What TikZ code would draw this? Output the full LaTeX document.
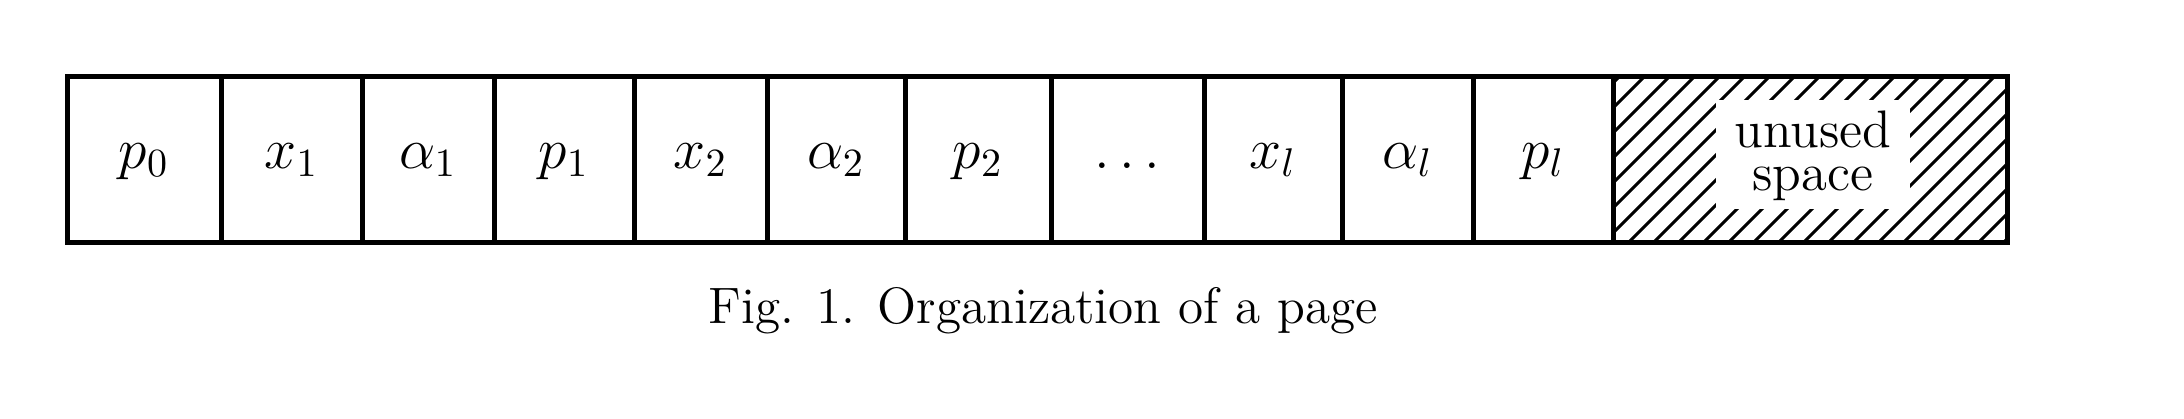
\documentclass[tikz,border=0pt]{standalone}
\usepackage{fontspec}
\begin{document}
\begin{tikzpicture}[x=0.25pt,y=-0.25pt,
  cell/.style={draw=black, line width=1.25pt},
  lab/.style={anchor=base, inner sep=0pt, font=\fontsize{14.4}{17}\selectfont},
  word/.style={anchor=base, inner sep=0pt, font=\fontsize{13.2}{16}\selectfont},
  hatch/.style={line width=0.75pt},
]
\useasboundingbox (0,0) rectangle (2184,418);
% hatching of the unused space
\begin{scope}
  \clip (1613,76) rectangle (2007,242);
  \foreach \k in {0,...,22} \draw[hatch] ({1454+25*\k},242) -- ++(166,-166);
\end{scope}
\fill[white] (1716,100) rectangle (1910,209);
\node[word] (unused) at (1813,147) {unused};
\node[word] (space) at (1813,190) {space};
% cells
\foreach \a/\b in {67/221,221/362,362/494,494/634,634/767,767/905,905/1051,1051/1204,1204/1342,1342/1473,1473/1613,1613/2007}
  \draw[cell] (\a,76) rectangle (\b,242);
% labels
\node[lab] (l1) at (144,168) {$p_0$};
\node[lab] (l2) at (291.5,168) {$x_1$};
\node[lab] (l3) at (428,168) {$\alpha_1$};
\node[lab] (l4) at (564,168) {$p_1$};
\node[lab] (l5) at (700.5,168) {$x_2$};
\node[lab] (l6) at (836,168) {$\alpha_2$};
\node[lab] (l7) at (978,168) {$p_2$};
\node[lab] (l8) at (1127.5,168) {$\dots$};
\node[lab] (l9) at (1273,168) {$x_l$};
\node[lab] (l10) at (1407.5,168) {$\alpha_l$};
\node[lab] (l11) at (1543,168) {$p_l$};
% caption
\node[anchor=base, inner sep=0pt, font=\fontsize{12.8}{15}\selectfont] (cap) at (1043,323) {Fig. 1. Organization of a page};
\end{tikzpicture}
\end{document}
